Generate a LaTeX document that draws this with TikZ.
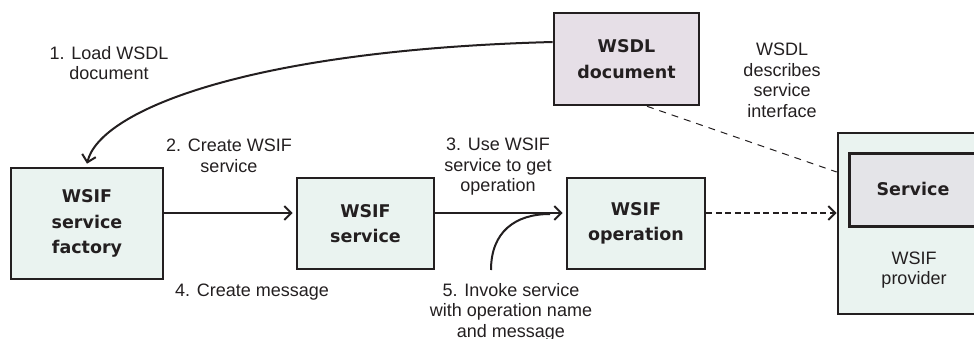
\documentclass[tikz,border=0pt]{standalone}
\usepackage{fontspec}
\setmainfont{Liberation Sans}
\newfontfamily\heavy{DejaVu Sans}
\usetikzlibrary{arrows.meta}
\definecolor{ink}{HTML}{231F20}
\definecolor{mint}{HTML}{EAF3F0}
\definecolor{lav}{HTML}{E6DFE7}
\definecolor{grayfill}{HTML}{E4E4E8}
\tikzset{
  box/.style={draw=ink, line width=2.6pt, fill=mint, inner sep=0pt, align=center,
    font=\heavy\bfseries\fontsize{17.5}{25.5}\selectfont, text=ink},
  lbl/.style={align=center, font=\fontsize{18}{20.5}\selectfont, text=ink, inner sep=0pt},
  conn/.style={draw=ink, line width=2pt, -{Straight Barb[length=7pt,width=14pt,line width=2pt]}},
}
\begin{document}
\begin{tikzpicture}[x=1pt,y=-1pt]
\useasboundingbox (0,0) rectangle (974,339);
% boxes
\node[box, minimum width=152pt, minimum height=111pt] (factory) at (87,223.5) {WSIF\\service\\factory};
\node[box, minimum width=137pt, minimum height=91pt] (service) at (365.5,223.5) {WSIF\\service};
\node[box, minimum width=138pt, minimum height=91pt] (op) at (636,223.5) {WSIF\\operation};
\node[box, fill=lav, minimum width=145pt, minimum height=92pt] (wsdl) at (626.5,59) {WSDL\\document};
\node[box, minimum width=162pt, minimum height=181pt] (provider) at (919,223.5) {};
\node[box, fill=grayfill, minimum width=142pt, minimum height=73pt, anchor=north west] (svc) at (848,152) {};
\node[font=\heavy\bfseries\fontsize{17.5}{25.5}\selectfont, text=ink] (svctext) at (913,189) {Service};
\node[lbl] (provtext) at (914,270) {WSIF\\provider};
% labels
\node[lbl] (l1) at (109,63) {1. Load WSDL\\document};
\node[lbl] (l2) at (229,156) {2. Create WSIF\\service};
\node[lbl] (l3) at (498,167) {3. Use WSIF\\service to get\\operation};
\node[lbl] (l4) at (252,292) {4. Create message};
\node[lbl] (l5) at (511,312) {5. Invoke service\\with operation name\\and message};
\node[lbl] (l6) at (782,80.5) {WSDL\\describes\\service\\interface};
% connectors
\draw[conn] ([yshift=17pt]wsdl.west) .. controls (250,50) and (100,110) .. ([yshift=3pt]factory.north);
\draw[conn, shorten >=3pt] ([yshift=10.5pt]factory.east) -- ([yshift=10.5pt]service.west);
\draw[conn, shorten >=3pt] ([yshift=10.5pt]service.east) -- ([yshift=10.5pt]op.west);
\coordinate (c5) at (491,270);
\coordinate (c5end) at (550,214);
\draw[draw=ink, line width=2pt] (c5) .. controls (491,232) and (515,214) .. (c5end);
\draw[conn, dash pattern=on 6pt off 3.5pt, line width=2.4pt] ([yshift=10.5pt]op.east) -- ([yshift=10.5pt]provider.west);
\draw[draw=ink, line width=1pt, dash pattern=on 7pt off 6pt] ([xshift=20.5pt]wsdl.south) -- ([yshift=51.5pt]provider.west);
\end{tikzpicture}
\end{document}
